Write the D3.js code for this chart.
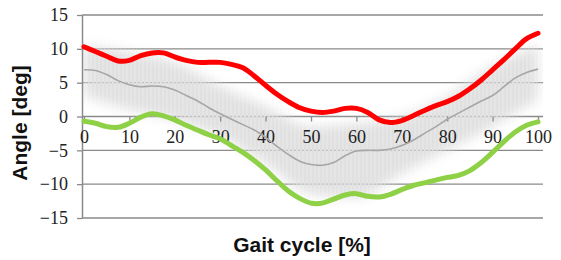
<!DOCTYPE html>
<html><head><meta charset="utf-8">
<script src="https://cdn.jsdelivr.net/npm/d3@7"></script>
<style>body{margin:0;background:#fff}svg{display:block}.tick text{font-family:"Liberation Serif","Times New Roman",serif !important;font-size:18px}</style>
</head><body>
<svg id="c" width="561" height="260"></svg>
<script>
const xs = [0,2.5,5,7.5,10,12.5,15,17.5,20,22.5,25,27.5,30,32.5,35,37.5,40,42.5,45,47.5,50,52.5,55,57.5,60,62.5,65,67.5,70,72.5,75,77.5,80,82.5,85,87.5,90,92.5,95,97.5,100];
const redVals = [10.3,9.6,8.9,8.2,8.3,9.0,9.4,9.4,8.8,8.3,8.0,8.0,8.0,7.7,7.2,6.0,4.6,3.3,2.2,1.3,0.8,0.6,0.8,1.2,1.2,0.6,-0.5,-0.9,-0.6,0.1,0.9,1.6,2.2,3.0,4.1,5.4,6.9,8.4,10.0,11.5,12.3];
const greenVals = [-0.7,-1.0,-1.5,-1.6,-1.0,-0.1,0.4,0.1,-0.5,-1.3,-2.0,-2.7,-3.3,-4.3,-5.3,-6.5,-7.9,-9.5,-11.0,-12.1,-12.8,-12.8,-12.2,-11.6,-11.4,-11.8,-11.9,-11.5,-10.8,-10.2,-9.8,-9.4,-9.0,-8.7,-8.0,-6.8,-5.3,-3.7,-2.3,-1.3,-0.8];
const meanVals = [6.9,6.8,6.2,5.3,4.7,4.4,4.5,4.4,3.9,3.1,2.3,1.3,0.4,-0.4,-1.2,-2.0,-3.1,-4.4,-5.6,-6.6,-7.1,-7.2,-6.8,-5.8,-5.1,-5.0,-5.0,-4.8,-4.3,-3.5,-2.5,-1.5,-0.4,0.5,1.4,2.3,3.1,4.4,5.7,6.5,7.0];
const bandX = [0,10,20,30,40,50,60,70,80,90,100];
const bandUpper = [10.5,9.5,8.0,4.5,1.5,-1.5,-1.0,0.0,3.0,7.5,10.5];
const bandLower = [3.0,1.0,-0.5,-3.0,-7.0,-11.5,-12.0,-8.5,-5.0,-1.5,2.5];
const yTicks = [-15,-10,-5,0,5,10,15];
const xTicks = [0,10,20,30,40,50,60,70,80,90,100];

const svg = d3.select('#c');
const x = d3.scaleLinear().domain([0,100]).range([84,538]);
const y = d3.scaleLinear().domain([-15,15]).range([218,15]);
const gridL = 82, gridR = 543;

const defs = svg.append('defs');
const pat = defs.append('pattern').attr('id','hatch').attr('patternUnits','userSpaceOnUse').attr('width',4).attr('height',4);
pat.append('rect').attr('width',4).attr('height',4).attr('fill','rgba(218,218,218,0.7)');
pat.append('rect').attr('width',2).attr('height',4).attr('fill','#e0e0e0');
defs.append('filter').attr('id','blur').attr('x','-20%').attr('y','-20%').attr('width','140%').attr('height','140%')
  .append('feGaussianBlur').attr('stdDeviation',6);
const mask = defs.append('mask').attr('id','bandMask').attr('maskUnits','userSpaceOnUse')
  .attr('x',0).attr('y',0).attr('width',561).attr('height',260);
const bandData = bandX.map((v,i)=>({x:v,u:bandUpper[i],l:bandLower[i]}));
mask.append('path').datum(bandData)
  .attr('d', d3.area().x(d=>x(d.x)).y0(d=>y(d.l)).y1(d=>y(d.u)).curve(d3.curveMonotoneX))
  .attr('fill','#fff').attr('filter','url(#blur)');
defs.append('clipPath').attr('id','plotClip').append('rect')
  .attr('x',gridL+1).attr('y',y(15)-2).attr('width',gridR-gridL-1).attr('height',y(-15)-y(15)+4);

// gridlines
svg.append('g').selectAll('line').data(yTicks).join('line')
  .attr('x1',gridL).attr('x2',gridR).attr('y1',d=>y(d)).attr('y2',d=>y(d))
  .attr('stroke','#8a8a8a').attr('stroke-width',1.3);

// band
svg.append('g').attr('clip-path','url(#plotClip)').append('rect')
  .attr('x',gridL+1).attr('y',0).attr('width',gridR-gridL).attr('height',260)
  .attr('fill','url(#hatch)').attr('mask','url(#bandMask)');

// y axis
const yAxis = d3.axisLeft(y).tickValues(yTicks).tickSize(5).tickSizeOuter(0).tickPadding(9);
const gy = svg.append('g').attr('transform',`translate(${gridL},0)`).call(yAxis);
gy.attr('font-family',null).attr('font-size',null);
gy.select('.domain').attr('stroke','#8a8a8a').attr('stroke-width',1.5);
gy.selectAll('.tick line').attr('stroke','#8a8a8a').attr('stroke-width',1.3);
gy.selectAll('.tick text').attr('fill','#222');

// x axis at zero
const xAxis = d3.axisBottom(x).tickValues(xTicks).tickSize(5).tickSizeOuter(0).tickPadding(9);
const gx = svg.append('g').attr('transform',`translate(0,${y(0)})`).call(xAxis);
gx.attr('font-family',null).attr('font-size',null);
gx.select('.domain').remove();
gx.selectAll('.tick line').attr('stroke','#8a8a8a').attr('stroke-width',1.3);
gx.selectAll('.tick text').attr('fill','#222');

const line = d3.line().x((d,i)=>x(xs[i])).y(d=>y(d)).curve(d3.curveCatmullRom.alpha(0.5));
svg.append('path').datum(meanVals).attr('d',line).attr('fill','none').attr('stroke','#a6a6a6').attr('stroke-width',1.6);
svg.append('path').datum(greenVals).attr('d',line).attr('fill','none').attr('stroke','#8ed046').attr('stroke-width',5).attr('stroke-linejoin','round').attr('stroke-linecap','round');
svg.append('path').datum(redVals).attr('d',line).attr('fill','none').attr('stroke','#ff0000').attr('stroke-width',5).attr('stroke-linejoin','round').attr('stroke-linecap','round');

// titles
svg.append('text').attr('x',302).attr('y',252).attr('text-anchor','middle')
  .attr('font-family','"Liberation Sans", Arial, sans-serif').attr('font-weight','bold').attr('font-size',21).attr('fill','#111')
  .text('Gait cycle [%]');
svg.append('text').attr('transform','translate(27,123) rotate(-90)').attr('text-anchor','middle')
  .attr('font-family','"Liberation Sans", Arial, sans-serif').attr('font-weight','bold').attr('font-size',21).attr('fill','#111')
  .text('Angle [deg]');
</script>
</body></html>
